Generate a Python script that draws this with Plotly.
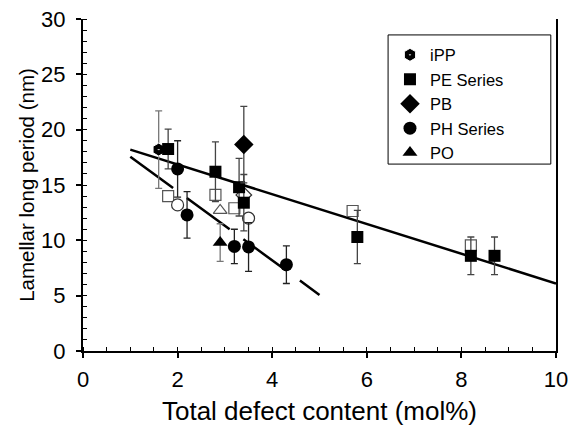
import plotly.graph_objects as go

# ---- data ----
ipp_x = [1.6]
ipp_y = [18.2]
ipp_err = [3.5]

pe_x = [1.8, 2.8, 3.3, 3.4, 5.8, 8.2, 8.7]
pe_y = [18.25, 16.2, 14.8, 13.4, 10.3, 8.6, 8.6]
pe_err = [1.8, 2.7, 2.6, 2.55, 2.4, 1.7, 1.7]

pb_x = [3.4]
pb_y = [18.65]
pb_err = [3.45]

ph_x = [2.0, 2.2, 3.2, 3.5, 4.3]
ph_y = [16.45, 12.3, 9.45, 9.4, 7.8]
ph_err = [2.55, 2.1, 1.55, 2.2, 1.7]

po_x = [2.9]
po_y = [9.8]
po_err = [1.7]

open_sq_x = [1.8, 2.8, 3.2, 5.7, 8.2]
open_sq_y = [14.0, 14.1, 12.9, 12.65, 9.55]
open_ci_x = [2.0, 3.5]
open_ci_y = [13.2, 12.0]
open_tr_x = [2.9]
open_tr_y = [12.7]
open_di_x = [3.4]
open_di_y = [14.1]

fit1_x = [1.0, 10.0]
fit1_y = [18.2, 6.1]
fit2_x = [1.0, 5.0]
fit2_y = [17.55, 5.07]

fig = go.Figure()

fig.add_trace(go.Scatter(x=fit1_x, y=fit1_y, mode="lines",
                         line=dict(color="black", width=2.5), showlegend=False, hoverinfo="skip"))
fig.add_trace(go.Scatter(x=fit2_x, y=fit2_y, mode="lines",
                         line=dict(color="black", width=2.5, dash="53px,17px"), showlegend=False, hoverinfo="skip"))

def err(arr, color):
    return dict(type="data", array=arr, visible=True, color=color, thickness=1.3, width=3.5)

# open markers
fig.add_trace(go.Scatter(x=open_sq_x, y=open_sq_y, mode="markers", showlegend=False,
                         marker=dict(symbol="square", size=11, color="white", line=dict(color="#555", width=1.2))))
fig.add_trace(go.Scatter(x=open_ci_x, y=open_ci_y, mode="markers", showlegend=False,
                         marker=dict(symbol="circle", size=12, color="white", line=dict(color="#333", width=1.2))))
fig.add_trace(go.Scatter(x=open_tr_x, y=open_tr_y, mode="markers", showlegend=False,
                         marker=dict(symbol="triangle-up", size=12, color="white", line=dict(color="#555", width=1.2))))
fig.add_trace(go.Scatter(x=open_di_x, y=open_di_y, mode="markers", showlegend=False,
                         marker=dict(symbol="diamond", size=12, color="white", line=dict(color="#333", width=1.2))))

fig.add_trace(go.Scatter(x=ipp_x, y=ipp_y, mode="markers", name="iPP",
                         error_y=err(ipp_err, "#777"),
                         marker=dict(symbol="hexagon-dot", size=13, color="black", line=dict(color="white", width=1))))
fig.add_trace(go.Scatter(x=pe_x, y=pe_y, mode="markers", name="PE Series",
                         error_y=err(pe_err, "#444"),
                         marker=dict(symbol="square", size=12, color="black")))
fig.add_trace(go.Scatter(x=pb_x, y=pb_y, mode="markers", name="PB",
                         error_y=err(pb_err, "#444"),
                         marker=dict(symbol="diamond", size=15, color="black")))
fig.add_trace(go.Scatter(x=ph_x, y=ph_y, mode="markers", name="PH Series",
                         error_y=err(ph_err, "#222"),
                         marker=dict(symbol="circle", size=13, color="black")))
fig.add_trace(go.Scatter(x=po_x, y=po_y, mode="markers", name="PO",
                         error_y=err(po_err, "#777"),
                         marker=dict(symbol="triangle-up", size=13, color="black")))

font_family = "Liberation Sans, Arial, sans-serif"
axis_common = dict(showline=True, linecolor="black", linewidth=2, showgrid=False, zeroline=False,
                   ticks="outside", ticklen=5, tickwidth=1.5, tickcolor="black", automargin=False,
                   ticklabeloverflow="allow",
                   tickfont=dict(size=22, color="black", family=font_family))

fig.update_layout(
    width=569, height=426,
    margin=dict(l=83, r=13, t=19, b=75),
    paper_bgcolor="white", plot_bgcolor="white",
    font=dict(family=font_family, color="black"),
    xaxis=dict(range=[0, 10], dtick=2, tick0=0, ticklabelstandoff=3,
               minor=dict(dtick=0.5, ticks="inside", ticklen=4, tickcolor="black", tickwidth=1),
               title=dict(text="Total defect content (mol%)", font=dict(size=26), standoff=15),
               **axis_common),
    yaxis=dict(range=[0, 30], dtick=5, tick0=0, mirror=True, ticklabelstandoff=6,
               minor=dict(dtick=1, ticks="inside", ticklen=4, tickcolor="black", tickwidth=1),
               title=dict(text="Lamellar long period (nm)", font=dict(size=20.5), standoff=1),
               **axis_common),
    legend=dict(x=0.649, y=0.944, xanchor="left", yanchor="top", bgcolor="rgba(0,0,0,0)",
                font=dict(size=16.5), tracegroupgap=0, itemwidth=30),
    shapes=[dict(type="rect", xref="paper", yref="paper",
                 x0=0.645, x1=0.989, y0=0.563, y1=0.952,
                 line=dict(color="black", width=1), fillcolor="rgba(0,0,0,0)")],
)

fig.write_html("out.html", config={"displayModeBar": False},
               post_script="document.body.style.margin='0';document.body.style.overflow='hidden';")
